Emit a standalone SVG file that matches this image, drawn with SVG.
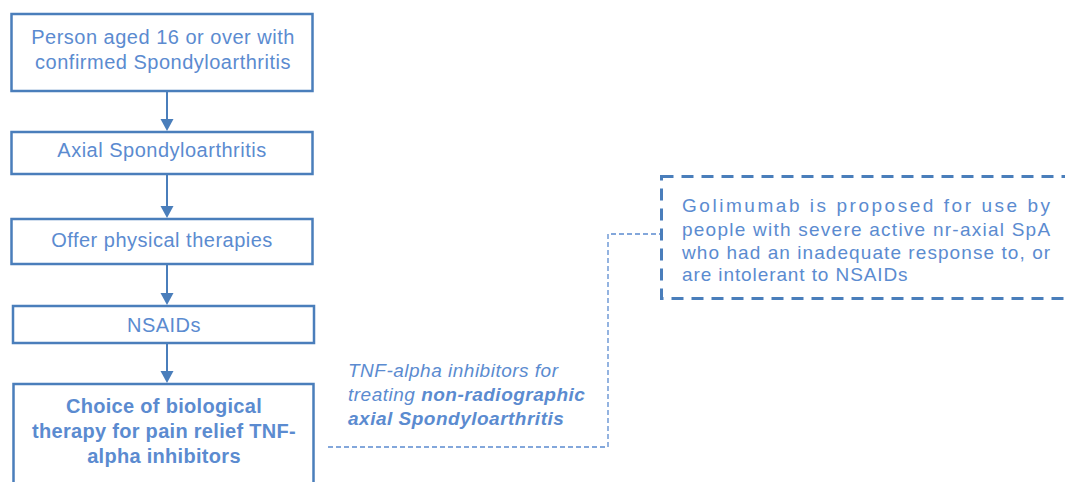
<svg xmlns="http://www.w3.org/2000/svg" width="1065" height="482" viewBox="0 0 1065 482">
<defs>
<style>
.box{fill:#fff;stroke:#4A7EBB;stroke-width:2.5}
.t{font-family:"Liberation Sans",Arial,sans-serif;font-size:20px;letter-spacing:0.5px;fill:#5B8BD0;text-anchor:middle}
.tb{font-weight:bold;letter-spacing:0.3px}
.arr{stroke:#4A7EBB;stroke-width:2;fill:none}
.dash{stroke:#5B8BD0;stroke-width:1.3;stroke-dasharray:5 3;fill:none}
.dbox{fill:#fff;stroke:#4A7EBB;stroke-width:3;stroke-dasharray:12 8}
.lab{font-family:"Liberation Sans",Arial,sans-serif;font-size:19px;letter-spacing:0.5px;fill:#5B8BD0;font-style:italic}
.g{font-family:"Liberation Sans",Arial,sans-serif;font-size:19px;letter-spacing:0.9px;fill:#5B8BD0}
</style>
</defs>
<g id="connectors">
<line class="arr" x1="167" y1="92" x2="167" y2="119"/>
<path d="M160.5,119 L173.5,119 L167,131 Z" fill="#4A7EBB"/>
<line class="arr" x1="167" y1="175" x2="167" y2="206"/>
<path d="M160.5,206 L173.5,206 L167,218 Z" fill="#4A7EBB"/>
<line class="arr" x1="167" y1="265" x2="167" y2="293"/>
<path d="M160.5,293 L173.5,293 L167,305 Z" fill="#4A7EBB"/>
<line class="arr" x1="167" y1="344" x2="167" y2="371"/>
<path d="M160.5,371 L173.5,371 L167,383 Z" fill="#4A7EBB"/>
<polyline class="dash" points="328,447 608,447 608,234 661,234"/>
</g>
<g id="n1">
<rect class="box" x="11.5" y="14" width="301" height="77"/>
<text class="t" x="163" y="44">Person aged 16 or over with</text>
<text class="t" x="163" y="69">confirmed Spondyloarthritis</text>
</g>
<g id="n2">
<rect class="box" x="11.5" y="132" width="301" height="42"/>
<text class="t" x="162" y="157">Axial Spondyloarthritis</text>
</g>
<g id="n3">
<rect class="box" x="11.5" y="219" width="301" height="45"/>
<text class="t" x="162" y="247">Offer physical therapies</text>
</g>
<g id="n4">
<rect class="box" x="13" y="306" width="301" height="37"/>
<text class="t" x="164" y="332">NSAIDs</text>
</g>
<g id="n5">
<rect class="box" x="13.5" y="384" width="300" height="110"/>
<text class="t tb" x="164" y="413">Choice of biological</text>
<text class="t tb" x="164" y="438">therapy for pain relief TNF-</text>
<text class="t tb" x="164" y="463">alpha inhibitors</text>
</g>
<g id="label">
<text class="lab" x="348" y="377">TNF-alpha inhibitors for</text>
<text class="lab" x="348" y="401">treating <tspan font-weight="bold">non-radiographic</tspan></text>
<text class="lab" x="348" y="425" font-weight="bold">axial Spondyloarthritis</text>
</g>
<g id="n6">
<rect class="dbox" x="661.5" y="176.5" width="420" height="122"/>
<text class="g" x="682" y="212" textLength="369" lengthAdjust="spacing">Golimumab is proposed for use by</text>
<text class="g" x="682" y="235.5" textLength="369" lengthAdjust="spacing">people with severe active nr-axial SpA</text>
<text class="g" x="682" y="258.5" textLength="369" lengthAdjust="spacing">who had an inadequate response to, or</text>
<text class="g" x="682" y="281">are intolerant to NSAIDs</text>
</g>
</svg>
